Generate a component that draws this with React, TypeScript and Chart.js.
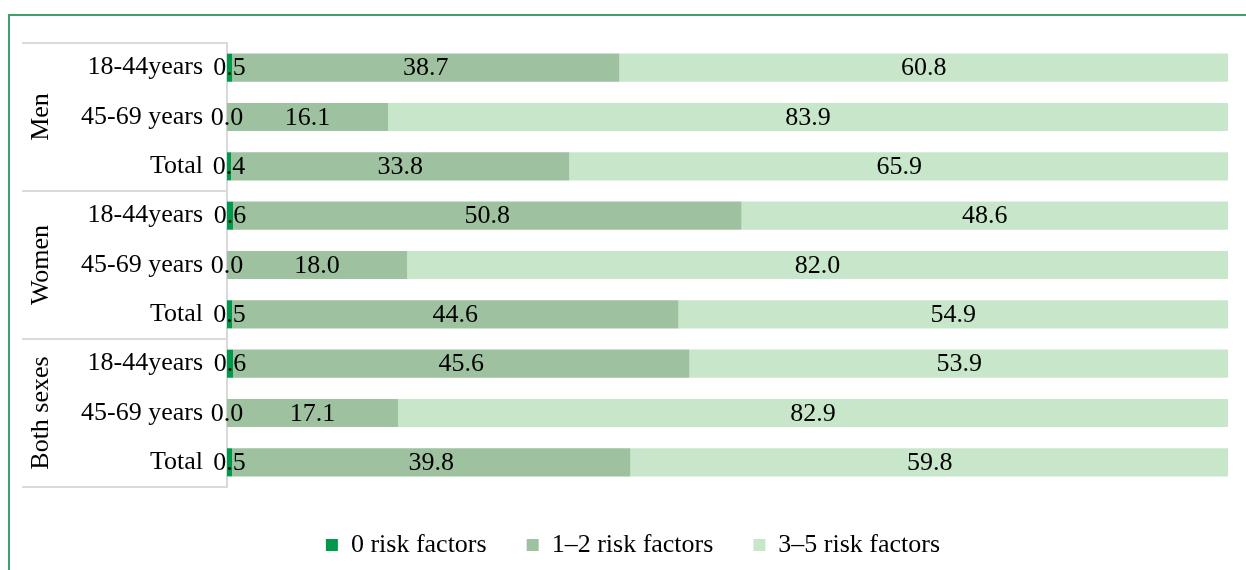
import React, { useEffect, useRef } from 'react';
import { Chart, registerables } from 'chart.js';

Chart.register(...registerables);

const categories = ['18-44years', '45-69 years', 'Total', '18-44years', '45-69 years', 'Total', '18-44years', '45-69 years', 'Total'];
const groups = ['Men', 'Women', 'Both sexes'];
const groupSize = 3;
const seriesNames = ['0 risk factors', '1–2 risk factors', '3–5 risk factors'];
const zeroRisk = [0.5, 0.0, 0.4, 0.6, 0.0, 0.5, 0.6, 0.0, 0.5];
const oneTwoRisk = [38.7, 16.1, 33.8, 50.8, 18.0, 44.6, 45.6, 17.1, 39.8];
const threeFiveRisk = [60.8, 83.9, 65.9, 48.6, 82.0, 54.9, 53.9, 82.9, 59.8];
const seriesColors = ['#00994c', '#9ec1a0', '#c8e6c9'];

const FONT_FAMILY = '"Liberation Serif", "Times New Roman", serif';
const FONT_SIZE = 26;

const valueLabels = {
  id: 'valueLabels',
  afterDatasetsDraw(chart: any) {
    const ctx = chart.ctx;
    ctx.save();
    ctx.font = `${FONT_SIZE}px ${FONT_FAMILY}`;
    ctx.fillStyle = '#000';
    ctx.textAlign = 'center';
    ctx.textBaseline = 'middle';
    chart.data.datasets.forEach((ds: any, di: number) => {
      const meta = chart.getDatasetMeta(di);
      meta.data.forEach((el: any, i: number) => {
        const p = el.getProps(['x', 'base', 'y'], true);
        ctx.fillText(Number(ds.data[i]).toFixed(1), (p.x + p.base) / 2, p.y + 1);
      });
    });
    ctx.restore();
  },
};

const groupFrame = {
  id: 'groupFrame',
  beforeDraw(chart: any) {
    const ctx = chart.ctx;
    ctx.save();
    ctx.strokeStyle = '#3aa26a';
    ctx.lineWidth = 2;
    ctx.beginPath();
    ctx.moveTo(9, chart.height);
    ctx.lineTo(9, 15);
    ctx.lineTo(chart.width, 15);
    ctx.stroke();
    ctx.restore();
  },
  afterDraw(chart: any) {
    const ctx = chart.ctx;
    const y = chart.scales.y;
    const area = chart.chartArea;
    const step = y.getPixelForTick(1) - y.getPixelForTick(0);
    const bounds: number[] = [];
    for (let g = 0; g < groups.length; g++) {
      bounds.push(y.getPixelForTick(g * groupSize) - step / 2);
    }
    bounds.push(y.getPixelForTick(categories.length - 1) + step / 2);
    ctx.save();
    ctx.strokeStyle = '#dadada';
    ctx.lineWidth = 2;
    bounds.forEach((b) => {
      ctx.beginPath();
      ctx.moveTo(22, b);
      ctx.lineTo(area.left - 1, b);
      ctx.stroke();
    });
    ctx.fillStyle = '#000';
    ctx.font = `${FONT_SIZE}px ${FONT_FAMILY}`;
    ctx.textAlign = 'center';
    ctx.textBaseline = 'middle';
    groups.forEach((name, g) => {
      const cy = (bounds[g] + bounds[g + 1]) / 2;
      ctx.save();
      ctx.translate(41, cy);
      ctx.rotate(-Math.PI / 2);
      ctx.fillText(name, 0, 0);
      ctx.restore();
    });
    ctx.restore();
  },
};

export default function App() {
  const canvasRef = useRef<HTMLCanvasElement | null>(null);

  useEffect(() => {
    if (!canvasRef.current) return;
    const chart = new Chart(canvasRef.current, {
      type: 'bar',
      data: {
        labels: categories,
        datasets: [zeroRisk, oneTwoRisk, threeFiveRisk].map((values, i) => ({
          label: seriesNames[i],
          data: values,
          backgroundColor: seriesColors[i],
          borderWidth: 0,
          barPercentage: 0.57,
          categoryPercentage: 1,
        })),
      },
      options: {
        indexAxis: 'y',
        responsive: false,
        animation: false,
        layout: { padding: { left: 20, right: 0, top: 43, bottom: 2 } },
        font: { family: FONT_FAMILY, size: FONT_SIZE },
        scales: {
          x: {
            stacked: true,
            min: 0,
            max: 100,
            display: true,
            grid: { display: false },
            border: { display: false },
            ticks: { display: false },
            afterFit: (s: any) => { s.height = 5; },
          },
          y: {
            stacked: true,
            grid: { display: false, drawTicks: false },
            border: { display: true, color: '#d9d9d9', width: 2 },
            ticks: { color: '#000', padding: 24, font: { family: FONT_FAMILY, size: FONT_SIZE } },
            afterFit: (s: any) => { s.width = 207; },
          },
          yRight: {
            type: 'linear',
            position: 'right',
            display: true,
            grid: { display: false },
            border: { display: false },
            ticks: { display: false },
            afterFit: (s: any) => { s.width = 18; },
          },
        },
        plugins: {
          legend: {
            position: 'bottom',
            labels: {
              boxWidth: 12,
              boxHeight: 12,
              padding: 40,
              color: '#000',
              font: { family: FONT_FAMILY, size: FONT_SIZE },
            },
          },
          tooltip: { enabled: false },
        },
      } as any,
      plugins: [valueLabels, groupFrame],
    });
    return () => chart.destroy();
  }, []);

  return (
    <div style={{ position: 'fixed', left: 0, top: 0, width: 1246, height: 570, background: '#fff' }}>
      <canvas ref={canvasRef} width={1246} height={570} style={{ display: 'block' }} />
    </div>
  );
}
